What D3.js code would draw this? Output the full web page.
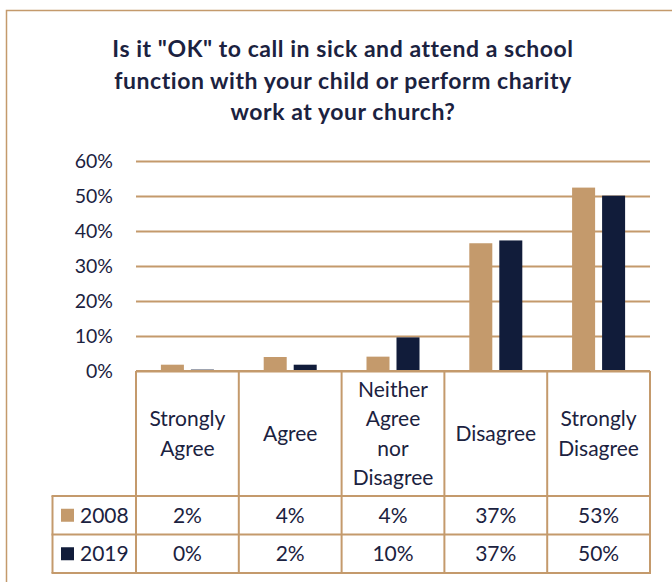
<!DOCTYPE html>
<html>
<head>
<meta charset="utf-8">
<script src="https://cdn.jsdelivr.net/npm/d3@7/dist/d3.min.js"></script>
<style>
  html, body { margin: 0; padding: 0; background: #fff; }
  svg { display: block; }
  text { font-family: Lato, "Open Sans", sans-serif; fill: #1b2240; }
</style>
</head>
<body>
<svg id="chart" width="672" height="582"></svg>
<script>
const titleLines = ['Is it "OK" to call in sick and attend a school', 'function with your child or perform charity', 'work at your church?'];
const categories = ["Strongly Agree", "Agree", "Neither Agree nor Disagree", "Disagree", "Strongly Disagree"];
const categoryLines = [["Strongly", "Agree"], ["Agree"], ["Neither", "Agree", "nor", "Disagree"], ["Disagree"], ["Strongly", "Disagree"]];
const seriesNames = ["2008", "2019"];
const values2008 = [1.8, 4.0, 4.1, 36.5, 52.4];
const values2019 = [0.4, 1.8, 9.6, 37.3, 50.1];
const labels2008 = ["2%", "4%", "4%", "37%", "53%"];
const labels2019 = ["0%", "2%", "10%", "37%", "50%"];
const yTicks = [0, 10, 20, 30, 40, 50, 60];

(function () {
const tan = "#c49a6c";
const navy = "#111c3a";
const colors = [tan, navy];
const seriesValues = [values2008, values2019];
const seriesLabels = [labels2008, labels2019];
const tableFont = "21px";

const svg = d3.select("#chart");

// outer frame
svg.append("rect").attr("x", 6.5).attr("y", 10.5).attr("width", 700).attr("height", 600)
  .attr("fill", "none").attr("stroke", tan).attr("stroke-width", 1.5);

// title
const title = svg.append("text").attr("text-anchor", "middle")
  .style("font-weight", "bold").style("font-size", "23px").style("letter-spacing", "0.55px");
titleLines.forEach((l, i) => {
  title.append("tspan").attr("x", 343).attr("y", 57 + i * 31.6).text(l);
});

const pLeft = 136, pRight = 650, pTop = 161, pBottom = 371;
const x = d3.scaleBand().domain(categories).range([pLeft, pRight]).paddingInner(0).paddingOuter(0);
const xs = d3.scaleBand().domain(seriesNames).range([0, x.bandwidth()]).paddingInner(0.233).paddingOuter(0.83);
const y = d3.scaleLinear().domain([0, 60]).range([pBottom, pTop]);

// gridlines + y axis labels
const yAxis = d3.axisLeft(y).tickValues(yTicks).tickFormat(d => d + "%")
  .tickSizeInner(-(pRight - pLeft)).tickSizeOuter(0).tickPadding(23);
const gy = svg.append("g").attr("transform", `translate(${pLeft},0)`).call(yAxis);
gy.select(".domain").remove();
gy.selectAll(".tick line").attr("stroke", tan).attr("stroke-width", 2);
gy.selectAll(".tick text").style("font-size", "19.5px").attr("fill", "#1b2240")
  .style("font-family", "Lato, sans-serif");

// bars
seriesNames.forEach((s, si) => {
  svg.append("g").selectAll("rect").data(categories).join("rect")
    .attr("x", d => x(d) + xs(s))
    .attr("width", xs.bandwidth())
    .attr("y", (d, i) => y(seriesValues[si][i]))
    .attr("height", (d, i) => y(0) - y(seriesValues[si][i]))
    .attr("fill", colors[si]);
});

// data table
const rowTop = pBottom, headBottom = 496, rowH = 38.5;
const tableLeft = 52.5;
const tableBottom = headBottom + rowH * 2;
const lines = svg.append("g").attr("stroke", tan).attr("stroke-width", 2);
const bounds = categories.map(c => x(c)).concat([pRight]);
bounds.forEach(bx => {
  lines.append("line").attr("x1", bx).attr("x2", bx).attr("y1", rowTop).attr("y2", tableBottom);
});
lines.append("line").attr("x1", tableLeft).attr("x2", tableLeft).attr("y1", headBottom).attr("y2", tableBottom);
[headBottom, headBottom + rowH, tableBottom].forEach(ly => {
  lines.append("line").attr("x1", tableLeft - 1).attr("x2", pRight + 1).attr("y1", ly).attr("y2", ly);
});
lines.append("line").attr("x1", pLeft).attr("x2", pRight).attr("y1", rowTop).attr("y2", rowTop);

// header labels
const headCenter = (rowTop + headBottom) / 2;
const lh = 29.3;
categories.forEach((c, i) => {
  const ls = categoryLines[i];
  const t = svg.append("text").attr("text-anchor", "middle").style("font-size", tableFont);
  ls.forEach((l, j) => {
    t.append("tspan").attr("x", x(c) + x.bandwidth() / 2)
      .attr("y", headCenter + (j - (ls.length - 1) / 2) * lh)
      .attr("dy", "0.35em").text(l);
  });
});

// rows
seriesNames.forEach((s, si) => {
  const cy = headBottom + rowH * si + rowH / 2;
  svg.append("rect").attr("x", 61).attr("y", cy - 6.5).attr("width", 13).attr("height", 13).attr("fill", colors[si]);
  svg.append("text").attr("x", 80).attr("y", cy).attr("dy", "0.35em").style("font-size", tableFont).text(s);
  categories.forEach((c, i) => {
    svg.append("text").attr("x", x(c) + x.bandwidth() / 2).attr("y", cy).attr("dy", "0.35em")
      .attr("text-anchor", "middle").style("font-size", tableFont).text(seriesLabels[si][i]);
  });
});
})();
</script>
</body>
</html>
